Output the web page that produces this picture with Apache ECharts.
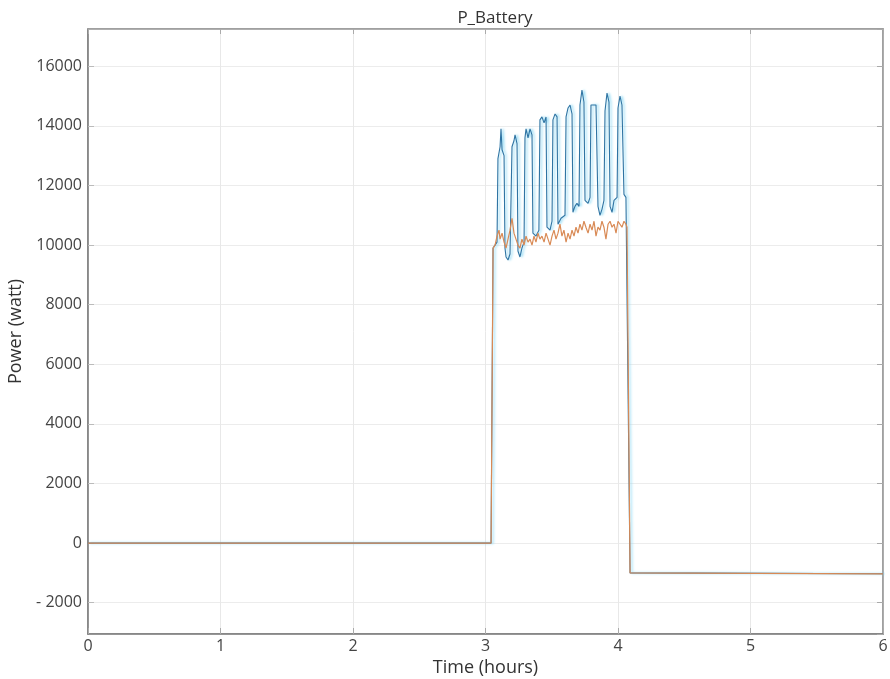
<!DOCTYPE html>
<html>
<head>
<meta charset="utf-8">
<script src="https://cdn.jsdelivr.net/npm/echarts@6/dist/echarts.min.js"></script>
<style>html,body{margin:0;padding:0;background:#fff;}#c{width:890px;height:679px;}</style>
</head>
<body>
<div id="c"></div>
<script>
const titleText = 'P_Battery';
const xName = 'Time (hours)';
const yName = 'Power (watt)';
const xTicks = [0, 1, 2, 3, 4, 5, 6];
const yTicks = [-2000, 0, 2000, 4000, 6000, 8000, 10000, 12000, 14000, 16000];

// [time (h), power (W)]
const batteryBlue = [
  [0,0],[3.042,0],[3.057,9900],[3.072,10000],[3.087,10100],[3.094,12900],[3.110,13300],[3.117,13900],
  [3.125,13200],[3.140,13000],[3.147,9900],[3.155,9600],[3.170,9500],[3.185,9700],[3.200,13300],
  [3.215,13500],[3.223,13700],[3.238,13400],[3.245,9800],[3.260,9600],[3.275,9900],[3.291,10100],
  [3.298,13600],[3.306,13900],[3.321,13600],[3.336,13900],[3.351,13700],[3.358,10400],[3.381,10300],
  [3.403,10500],[3.411,14200],[3.426,14300],[3.442,14100],[3.457,14300],[3.464,10600],[3.487,10500],
  [3.502,10800],[3.509,14200],[3.525,14400],[3.540,14300],[3.547,10700],[3.570,10900],[3.600,11000],
  [3.608,14300],[3.623,14600],[3.638,14700],[3.653,14400],[3.660,11100],[3.675,11300],[3.690,11400],
  [3.706,11300],[3.713,14700],[3.728,15200],[3.743,14800],[3.751,11500],[3.774,11400],[3.789,11600],
  [3.796,14700],[3.834,14700],[3.849,11300],[3.864,11000],[3.879,11200],[3.894,11500],[3.902,14500],
  [3.917,15100],[3.932,14800],[3.940,11300],[3.955,11100],[3.970,11500],[3.993,11600],[4.000,14600],
  [4.015,15000],[4.030,14700],[4.045,11700],[4.060,11600],[4.068,11600],[4.091,-1000],[6,-1030]
];

const batteryOrange = [
  [0,0],[3.042,0],[3.057,9900],[3.072,10000],[3.087,10300],[3.102,10500],[3.110,10200],[3.125,10400],
  [3.140,10100],[3.155,9900],[3.170,10200],[3.185,10500],[3.200,10900],[3.215,10400],[3.230,10200],
  [3.245,10000],[3.260,9900],[3.275,10200],[3.291,10000],[3.306,10300],[3.321,10100],[3.336,10200],
  [3.351,10000],[3.366,10300],[3.381,10100],[3.396,10400],[3.411,10200],[3.426,10300],[3.442,10100],
  [3.457,10400],[3.472,10200],[3.487,10000],[3.502,10300],[3.517,10500],[3.532,10200],[3.547,10400],
  [3.562,10700],[3.577,10300],[3.592,10500],[3.608,10100],[3.623,10400],[3.638,10200],[3.653,10500],
  [3.668,10300],[3.683,10600],[3.698,10400],[3.713,10700],[3.728,10500],[3.743,10800],[3.758,10600],
  [3.774,10400],[3.789,10700],[3.804,10500],[3.819,10800],[3.834,10300],[3.849,10600],[3.864,10500],
  [3.879,10800],[3.894,10600],[3.909,10200],[3.925,10700],[3.940,10800],[3.955,10600],[3.970,10700],
  [3.985,10400],[4.000,10800],[4.015,10700],[4.030,10600],[4.045,10800],[4.060,10700],[4.068,10600],
  [4.091,-1000],[6,-1030]
];

const font = 'Open Sans';
const chart = echarts.init(document.getElementById('c'), null, {renderer: 'canvas'});
const axisGray = '#7a7a7a';
const fmtY = v => (v < 0 ? '- ' + Math.abs(v) : String(v));

chart.setOption({
  animation: false,
  backgroundColor: '#fff',
  title: {
    text: titleText, left: 490, top: 5, textAlign: 'center',
    textStyle: {fontFamily: font, fontSize: 17, fontWeight: 'normal', color: '#333'}
  },
  grid: {left: 88, right: 7, top: 29, bottom: 45, show: true, borderColor: '#9a9a9a', borderWidth: 1.5,
    containLabel: false, outerBoundsMode: 'none'},
  xAxis: [{
    type: 'value', min: 0, max: 6, interval: 1,
    name: xName, nameLocation: 'middle', nameGap: 12,
    nameTextStyle: {fontFamily: font, fontSize: 18, color: '#333'},
    axisLine: {show: true, onZero: false, lineStyle: {color: axisGray, width: 1.5}},
    axisTick: {show: true, inside: true, length: 6, lineStyle: {color: '#aaa'}},
    axisLabel: {fontFamily: font, fontSize: 16, color: '#444', margin: 4,
      formatter: v => (xTicks.indexOf(v) >= 0 ? String(v) : '')},
    splitLine: {show: true, lineStyle: {color: '#e8e8e8', width: 1}}
  }, {
    type: 'value', min: 0, max: 6, interval: 1, position: 'top',
    axisLine: {show: true, onZero: false, lineStyle: {color: '#9a9a9a', width: 1.5}},
    axisTick: {show: true, inside: true, length: 5, lineStyle: {color: '#aaa'}},
    axisLabel: {show: false}, splitLine: {show: false}
  }],
  yAxis: [{
    type: 'value', min: -3050, max: 17250, splitNumber: 10,
    name: yName, nameLocation: 'middle', nameGap: 52, nameRotate: 90,
    nameTextStyle: {fontFamily: font, fontSize: 18, color: '#333'},
    axisLine: {show: true, onZero: false, lineStyle: {color: axisGray, width: 1.5}},
    axisTick: {show: true, inside: true, length: 6, lineStyle: {color: '#bbb'}},
    axisLabel: {fontFamily: font, fontSize: 16, color: '#444', margin: 6, showMinLabel: false, showMaxLabel: false,
      formatter: v => (yTicks.indexOf(v) >= 0 ? fmtY(v) : '')},
    splitLine: {show: true, lineStyle: {color: '#ececec', width: 1}}
  }, {
    type: 'value', min: -3050, max: 17250, splitNumber: 10, position: 'right',
    axisLine: {show: true, onZero: false, lineStyle: {color: '#9a9a9a', width: 1.5}},
    axisTick: {show: true, inside: true, length: 6, lineStyle: {color: '#aaa'}},
    axisLabel: {show: false}, splitLine: {show: false}
  }],
  series: [{
    type: 'line', name: 'P_Battery_1', data: batteryBlue, showSymbol: false, symbol: 'none',
    lineStyle: {color: '#2f74a3', width: 1.1, shadowColor: '#86d6f3', shadowBlur: 2.5, shadowOffsetX: 2},
    z: 2
  }, {
    type: 'line', name: 'P_Battery_2', data: batteryOrange, showSymbol: false, symbol: 'none',
    lineStyle: {color: '#d98a55', width: 1.2},
    z: 3
  }]
});
</script>
</body>
</html>
